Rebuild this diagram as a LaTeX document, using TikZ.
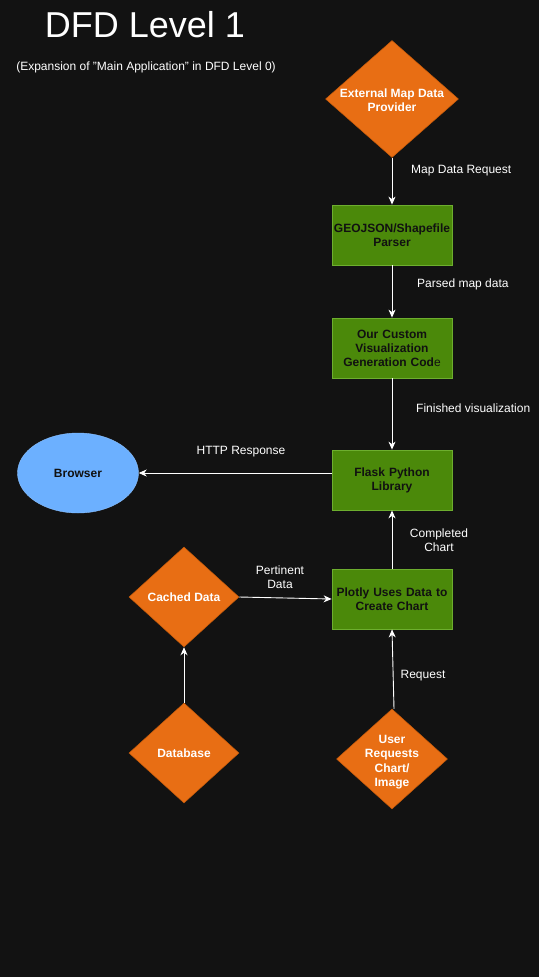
\documentclass[tikz,border=0pt]{standalone}
\usepackage{fontspec}
\setmainfont{Liberation Sans}
\usetikzlibrary{shapes.geometric,arrows.meta}
\definecolor{bg}{HTML}{121212}
\definecolor{orangefill}{HTML}{E86E14}
\definecolor{orangeline}{HTML}{C45A0A}
\definecolor{greenfill}{HTML}{4B890A}
\definecolor{greenline}{HTML}{6DAE2E}
\definecolor{bluefill}{HTML}{6CB0FF}
\definecolor{darktext}{HTML}{111111}
\tikzset{
  x=1pt,y=-1pt,
  procbox/.style={rectangle,draw=greenline,fill=greenfill,line width=0.8pt,minimum width=120pt,minimum height=60pt,text width=118pt,align=center,inner sep=0pt,font=\fontsize{12}{14}\selectfont\bfseries,text=darktext},
  extent/.style={diamond,draw=orangeline,fill=orangefill,line width=0.5pt,inner sep=0pt},
  dtext/.style={align=center,inner sep=0pt,font=\fontsize{12}{14.5}\selectfont\bfseries,text=white},
  flow/.style={draw=white,line width=0.9pt,-{Stealth[length=8pt,width=7pt,inset=2.5pt]}},
  lbl/.style={font=\fontsize{12}{14}\selectfont,text=white,align=center,inner sep=0pt},
}
\begin{document}
\begin{tikzpicture}
\fill[bg] (0,0) rectangle (539,977);
\useasboundingbox (0,0) rectangle (539,977);
\node[text=white,font=\fontsize{36}{40}\selectfont,inner sep=0pt] (title) at (145,25) {DFD Level 1};
\node[text=white,font=\fontsize{12}{14}\selectfont,inner sep=0pt] (subtitle) at (146,67) {(Expansion of "Main Application" in DFD Level 0)};

\node[extent,minimum width=133pt,minimum height=117pt,label={[dtext,yshift=-1pt]center:External Map Data\\Provider}] (ext) at (392,99) {};
\node[procbox] (geo) at (392,235) {GEOJSON/Shapefile\\Parser};
\node[procbox] (viz) at (392,348) {Our Custom\\Visualization\\Generation Cod\textmd{e}};
\node[procbox] (flask) at (392,480) {Flask Python\\Library};
\node[procbox] (plotly) at (392,599) {Plotly Uses Data to\\Create Chart};
\node[ellipse,draw=bluefill!80!white,fill=bluefill,minimum width=121pt,minimum height=80pt,inner sep=0pt,font=\fontsize{12}{14}\selectfont\bfseries,text=darktext] (browser) at (78,473) {Browser};
\node[extent,minimum width=110pt,minimum height=100pt,label={[dtext]center:Cached Data}] (cached) at (184,597) {};
\node[extent,minimum width=110pt,minimum height=100pt,label={[dtext]center:Database}] (db) at (184,753) {};
\node[extent,minimum width=111pt,minimum height=100pt,label={[dtext,yshift=-3pt]center:User\\Requests\\Chart/\\Image}] (user) at (392,759) {};

\draw[flow] (ext.south) -- (geo.north);
\draw[flow] (geo.south) -- (viz.north);
\draw[flow] (viz.south) -- (flask.north);
\draw[flow] (flask.west |- browser.east) -- (browser.east);
\draw[flow] (plotly.north) -- (flask.south);
\draw[flow] (cached.east) -- (plotly.west);
\draw[flow] (db.north) -- (cached.south);
\draw[flow] ([xshift=2pt]user.north) -- (plotly.south);

\node[lbl,anchor=west] (l1) at (411,171) {Map Data Request};
\node[lbl,anchor=west] (l2) at (417,284) {Parsed map data};
\node[lbl,anchor=west] (l3) at (416,408) {Finished visualization};
\node[lbl] (l4) at (241,452) {HTTP Response};
\node[lbl] (l5) at (439,540) {Completed\\Chart};
\node[lbl] (l6) at (280,577) {Pertinent\\Data};
\node[lbl] (l7) at (423,676) {Request};
\end{tikzpicture}
\end{document}
